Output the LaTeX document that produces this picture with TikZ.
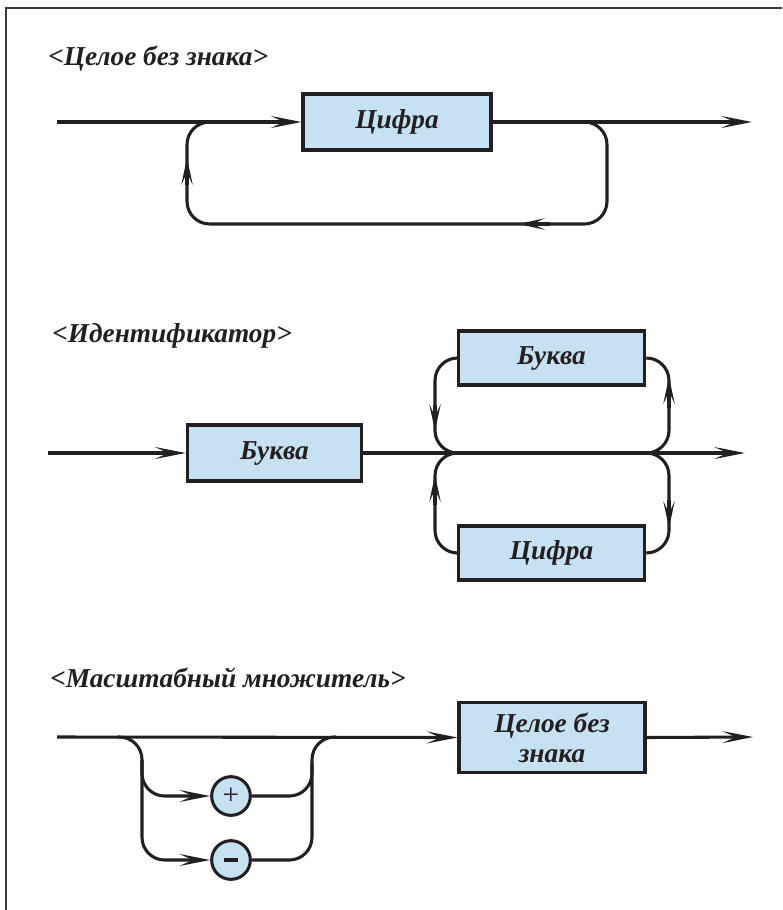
\documentclass[tikz,border=0pt]{standalone}
\usepackage{fontspec}
\setmainfont{Liberation Serif}
\usetikzlibrary{arrows.meta}
\definecolor{ink}{HTML}{231F20}
\definecolor{boxfill}{RGB}{198,225,242}
\definecolor{framegray}{HTML}{3A3A3A}

\tikzset{
  spear/.tip={Stealth[length=23pt,width=9pt,inset=10pt]},
  spearshort/.tip={Stealth[length=20pt,width=8.5pt,inset=9pt]},
  wire/.style={draw=ink,line width=2.3pt},
  rc/.style={wire,rounded corners=17pt},
  box/.style={draw=ink,fill=boxfill,line width=2.3pt,inner sep=0pt,
    font=\fontsize{20.5}{22.5}\selectfont\bfseries\itshape,text=ink,align=center},
  sign/.style={circle,draw=ink,fill=boxfill,line width=2.3pt,minimum size=29pt,inner sep=0pt,
    font=\fontsize{22}{22}\selectfont,text=ink},
  heading/.style={anchor=base west,inner sep=0pt,
    font=\fontsize{20.5}{24}\selectfont\bfseries\itshape,text=ink},
}

\begin{document}
\begin{tikzpicture}[x=0.75pt,y=-0.75pt]
\useasboundingbox (0,0) rectangle (782,910);

% frame
\draw[framegray,line width=1.3pt] (6,910) -- (6,8) -- (782,8);

% ---------- unsigned integer ----------
\node[heading] (t1) at (48,65) {<Целое без знака>};
\node[box,minimum width=141pt,minimum height=42pt] (d1) at (397,122) {Цифра};
\coordinate (s1) at (57,122);
\coordinate (e1) at (752,122);
\draw[wire,-{spear}] (s1) -- (d1.west);
\draw[wire,-{spear}] (d1.east) -- (e1);
\draw[rc] (585,122) -- (607,122) -- (607,224) -- (187,224) -- (187,122) -- (212,122);
\draw[wire,-{spearshort}] (550,224) -- (518,224);
\draw[wire,-{spearshort}] (187,185) -- (187,158);

% ---------- identifier ----------
\node[heading] (t2) at (52,342) {<Идентификатор>};
\node[box,minimum width=131pt,minimum height=42pt] (b1) at (274.5,453) {Буква};
\node[box,minimum width=140pt,minimum height=40.5pt] (bu) at (551.5,358) {Буква};
\node[box,minimum width=140pt,minimum height=40.5pt] (cl) at (551.5,553) {Цифра};
\coordinate (s2) at (48,453);
\coordinate (e2) at (745,453);
\draw[wire,-{spear}] (s2) -- (b1.west);
\draw[wire,-{spear}] (b1.east) -- (e2);
\draw[rc] (bu.west) -- (435,358) -- (435,453) -- (460,453);
\draw[rc] (bu.east) -- (669,358) -- (669,453) -- (645,453);
\draw[rc] (cl.west) -- (435,553) -- (435,453) -- (460,453);
\draw[rc] (cl.east) -- (669,553) -- (669,453) -- (645,453);
\draw[wire,-{spearshort}] (435,405) -- (435,431);
\draw[wire,-{spearshort}] (669,408) -- (669,377);
\draw[wire,-{spearshort}] (435,505) -- (435,475);
\draw[wire,-{spearshort}] (669,500) -- (669,528);

% ---------- scale factor ----------
\node[heading] (t3) at (50,687) {<Масштабный множитель>};
\node[box,minimum width=139.5pt,minimum height=52pt] (n1) at (552,737.5) {Целое без\\знака};
\node[sign] (pl) at (231,796) {+};
\node[sign] (mi) at (231,860) {\rule{10pt}{2.6pt}};
\coordinate (s3) at (57,737);
\coordinate (e3) at (753,737);
\draw[wire,-{spear}] (s3) -- (n1.west);
\draw[wire,-{spear}] (n1.east) -- (e3);
\draw[rc,-{spear}] (118,737) -- (142,737) -- (142,860) -- (mi.west);
\draw[rc,-{spear}] (142,760) -- (142,796) -- (pl.west);
\draw[rc] (mi.east) -- (312,860) -- (312,737) -- (336,737);
\draw[rc] (pl.east) -- (312,796) -- (312,765);
\end{tikzpicture}
\end{document}
